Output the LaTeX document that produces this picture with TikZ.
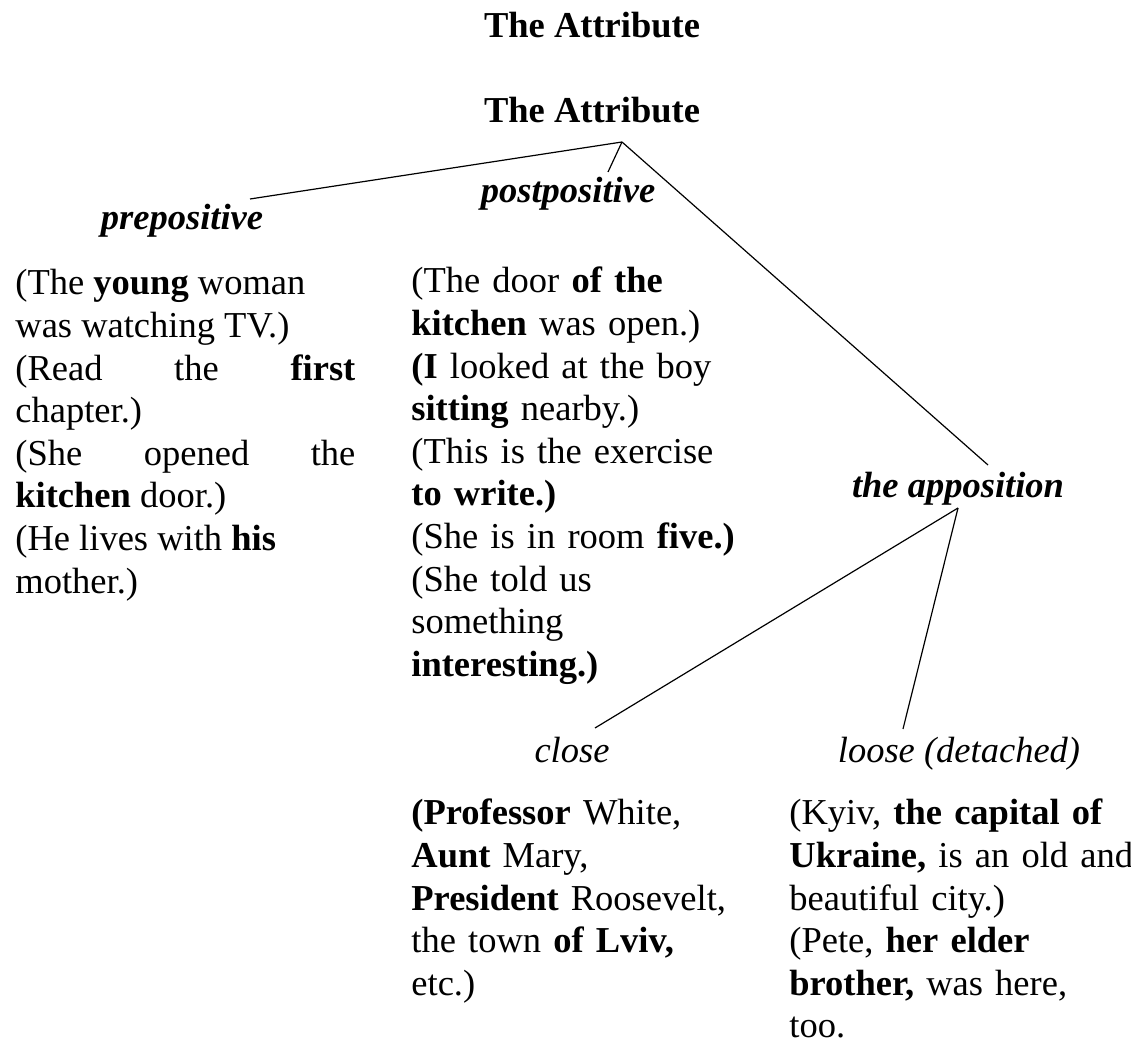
\documentclass[tikz,border=0pt]{standalone}
\usepackage{fontspec}
\setmainfont{Liberation Serif}
\begin{document}
\begin{tikzpicture}[x=0.5pt,y=-0.5pt,
    every node/.style={inner sep=0pt,font=\fontsize{18.25}{21.3}\selectfont},
    title/.style={anchor=base,font=\fontsize{18.25}{21.3}\selectfont\bfseries},
    heading/.style={anchor=base,font=\fontsize{18.25}{21.3}\selectfont\bfseries\itshape},
    subheading/.style={anchor=base,font=\fontsize{18.25}{21.3}\selectfont\itshape},
    examples/.style={anchor=base west,text width=185pt,align=left},
    branch/.style={line width=0.6pt}]
  \useasboundingbox (0,0) rectangle (1131,1042);

  % Titles
  \node[title] (title) at (592,38) {The Attribute};
  \node[title] (attr) at (592,123) {The Attribute};

  % First level
  \node[heading] (pre) at (182,230) {prepositive};
  \node[heading] (post) at (568,203) {postpositive};
  \node[heading] (appos) at (958,498) {the apposition};

  % Second level
  \node[subheading] (close) at (572,763) {close};
  \node[subheading] (loose) at (959,763) {loose (detached)};

  % Examples
  \node[examples,text width=170pt,align=justify] (preex) at (15,295)
    {\noindent(The \textbf{young} woman\\was watching TV.)\\(Read the \textbf{first}\linebreak chapter.)\\(She opened the\linebreak \textbf{kitchen} door.)\\(He lives with \textbf{his}\\mother.)};
  \node[examples] (postex) at (411,293)
    {(The door \textbf{of the}\\\textbf{kitchen} was open.)\\\textbf{(I} looked at the boy\\\textbf{sitting} nearby.)\\(This is the exercise\\\textbf{to write.)}\\(She is in room \textbf{five.)}\\(She told us\\something\\\textbf{interesting.)}};
  \node[examples] (closeex) at (411,825)
    {\textbf{(Professor} White,\\\textbf{Aunt} Mary,\\\textbf{President} Roosevelt,\\the town \textbf{of Lviv,}\\etc.)};
  \node[examples] (looseex) at (789,825)
    {(Kyiv, \textbf{the capital of}\\\textbf{Ukraine,} is an old and\\beautiful city.)\\(Pete, \textbf{her elder}\\\textbf{brother,} was here,\\too.};

  % Branch points
  \coordinate (root) at (622,142);
  \coordinate (preend) at (250,199);
  \coordinate (postend) at (608,172);
  \coordinate (apposend) at (988,465);
  \coordinate (appostop) at (958,508);
  \coordinate (closeend) at (595,728);
  \coordinate (looseend) at (903,729);

  \draw[branch] (root) -- (preend);
  \draw[branch] (root) -- (postend);
  \draw[branch] (root) -- (apposend);
  \draw[branch] (appostop) -- (closeend);
  \draw[branch] (appostop) -- (looseend);
\end{tikzpicture}
\end{document}
